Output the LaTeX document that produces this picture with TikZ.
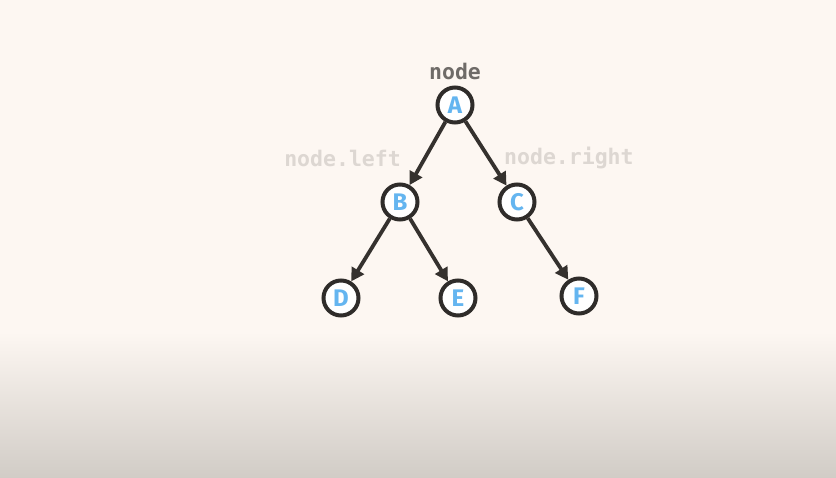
\documentclass[tikz,border=0pt]{standalone}
\usepackage{fontspec}
\setmainfont{Fira Sans}
\newfontfamily\codefont{DejaVu Sans Mono}
\usetikzlibrary{arrows.meta}
\definecolor{paper}{HTML}{FDF7F2}
\definecolor{floor}{HTML}{D1CCC6}
\definecolor{ink}{HTML}{2F2C2A}
\definecolor{edgeink}{HTML}{35312E}
\definecolor{letter}{HTML}{64B5F0}
\definecolor{ptrdark}{HTML}{6F6B68}
\definecolor{ptrlight}{HTML}{DDD7D2}
\tikzset{
  treenode/.style={circle, draw=ink, line width=4pt, fill=white,
    minimum size=35pt, inner sep=0pt, text=letter,
    font=\fontsize{24}{24}\selectfont\bfseries},
  link/.style={draw=edgeink, line width=3.8pt,
    -{Triangle[length=13pt,width=14pt]}},
  ptr/.style={font=\codefont\fontsize{21.5}{21.5}\selectfont\bfseries, inner sep=0pt}
}
\begin{document}
\begin{tikzpicture}[x=1pt,y=-1pt]
  \useasboundingbox (0,0) rectangle (836,478);
  % backdrop: flat paper with a soft fade to grey at the bottom
  \fill[paper] (0,0) rectangle (836,478);
  \shade[top color=paper, bottom color=floor] (0,332) rectangle (836,478);

  % tree nodes
  \node[treenode] (A) at (455,105) {A};
  \node[treenode] (B) at (400,202) {B};
  \node[treenode] (C) at (517,202) {C};
  \node[treenode] (D) at (341,298) {D};
  \node[treenode] (E) at (458,298) {E};
  \node[treenode] (F) at (579,296) {F};

  % edges
  \draw[link] (A) -- (B);
  \draw[link] (A) -- (C);
  \draw[link] (B) -- (D);
  \draw[link] (B) -- (E);
  \draw[link] (C) -- (F);

  % pointer labels
  \node[ptr, text=ptrdark] (lbl) at (455,71) {node};
  \node[ptr, text=ptrlight, anchor=east] (lblleft) at (401,158) {node.left};
  \node[ptr, text=ptrlight, anchor=west] (lblright) at (504,158) {node.right};
\end{tikzpicture}
\end{document}
